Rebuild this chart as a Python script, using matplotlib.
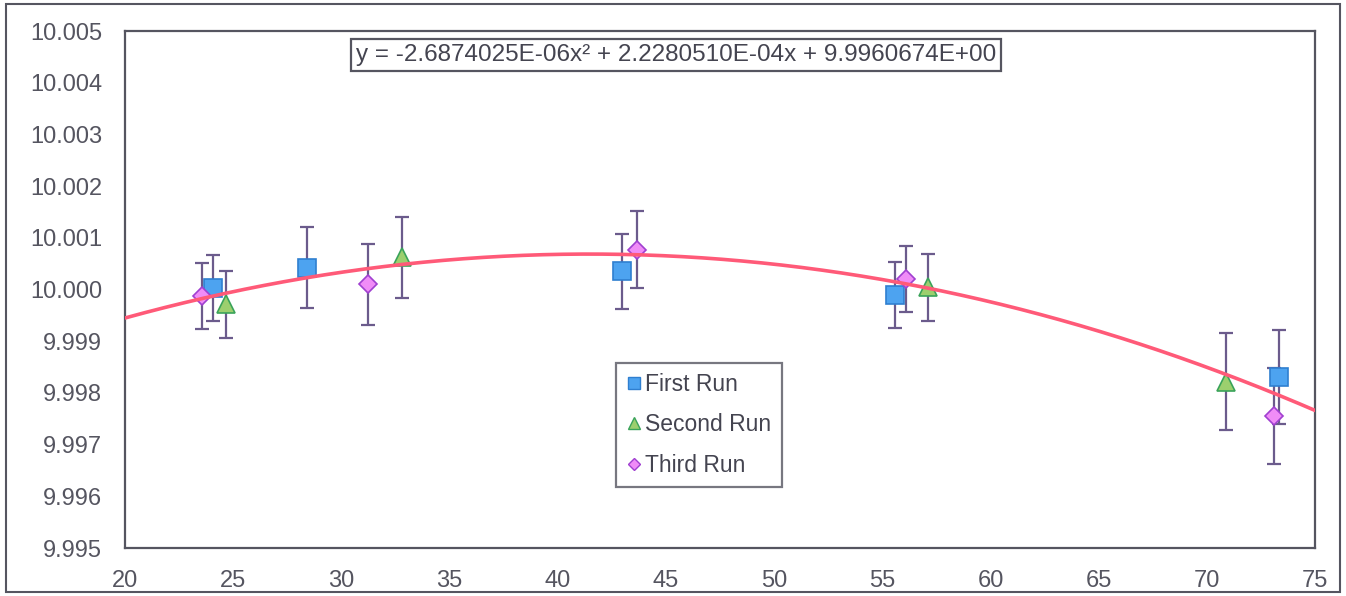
import numpy as np
import matplotlib
matplotlib.use("Agg")
import matplotlib.pyplot as plt
from matplotlib.lines import Line2D
from matplotlib.patches import Rectangle

plt.rcParams['font.family'] = ['Liberation Sans', 'DejaVu Sans']

# ---- data ----
first_x = [24.07, 28.4, 42.97, 55.6, 73.33]
first_y = [10.00003, 10.00042, 10.00035, 9.99990, 9.99830]
first_err = [0.00063, 0.00078, 0.00072, 0.00064, 0.00091]

second_x = [24.67, 32.8, 57.1, 70.9]
second_y = [9.99971, 10.00062, 10.00004, 9.99822]
second_err = [0.00065, 0.00079, 0.00064, 0.00093]

third_x = [23.56, 31.23, 43.66, 56.1, 73.1]
third_y = [9.99987, 10.00010, 10.00077, 10.00021, 9.99756]
third_err = [0.00064, 0.00078, 0.00074, 0.00064, 0.00093]

# trendline coefficients (as printed on chart)
fit_coeffs = [-2.6874025e-06, 2.2280510e-04, 9.9960674e+00]
equation = "y = -2.6874025E-06x\u00b2 + 2.2280510E-04x + 9.9960674E+00"

x_ticks = [20, 25, 30, 35, 40, 45, 50, 55, 60, 65, 70, 75]
y_ticks = [9.995, 9.996, 9.997, 9.998, 9.999, 10.000, 10.001, 10.002, 10.003, 10.004, 10.005]

# ---- figure ----
fig = plt.figure(figsize=(13.46, 5.96), dpi=100)
ax = fig.add_axes([125/1346, 48/596, 1190/1346, 517/596])

frame = Rectangle((6/1346, 4/596), 1334/1346, 588/596, transform=fig.transFigure,
                  fill=False, edgecolor='#555560', linewidth=1.5)
fig.patches.append(frame)

err_color = '#6b5b8c'
series = [
    (first_x, first_y, first_err, 's', '#4da3f0', '#2f7fd0', 12.5, 'First Run'),
    (second_x, second_y, second_err, '^', '#9ccf6e', '#3aa35a', 12.5, 'Second Run'),
    (third_x, third_y, third_err, 'D', '#f08cf7', '#a040d0', 9, 'Third Run'),
]
handles = []
for xs, ys, es, m, fc, ec, ms, lab in series:
    ax.errorbar(xs, ys, yerr=es, fmt='none', ecolor=err_color, elinewidth=1.6,
                capsize=5, capthick=1.6, zorder=2)
    ax.plot(xs, ys, linestyle='none', marker=m, markersize=ms, markerfacecolor=fc,
            markeredgecolor=ec, markeredgewidth=1.2, zorder=3)
    handles.append(Line2D([], [], linestyle='none', marker=m, markersize=8 if m != 'D' else 6,
                          markerfacecolor=fc, markeredgecolor=ec, markeredgewidth=1.0, label=lab))

xf = np.linspace(20, 75, 300)
ax.plot(xf, np.polyval(fit_coeffs, xf), color='#ff5a78', linewidth=2.6, zorder=4)

ax.set_xlim(20, 75)
ax.set_ylim(9.995, 10.005)
ax.set_xticks(x_ticks)
ax.set_xticklabels([str(v) for v in x_ticks])
ax.set_yticks(y_ticks)
ax.set_yticklabels([f"{v:.3f}" for v in y_ticks])
ax.tick_params(length=0, labelsize=17, colors='#555560')
ax.tick_params(axis='y', pad=16.5)
ax.tick_params(axis='x', pad=16)
for s in ax.spines.values():
    s.set_color('#555560')
    s.set_linewidth(1.6)

ax.text(0.463, 0.954, equation, transform=ax.transAxes, ha='center', va='center',
        fontsize=17.5, color='#444450',
        bbox=dict(boxstyle='square,pad=0.2', facecolor='white', edgecolor='#555560', linewidth=1.6))

leg = ax.legend(handles=handles, loc='lower left', bbox_to_anchor=(0.413, 0.118),
                fontsize=16.5, frameon=True, fancybox=False, handlelength=0.6,
                handletextpad=0.2, labelspacing=0.75, borderpad=0.45, borderaxespad=0)
leg.get_frame().set_edgecolor('#555560')
leg.get_frame().set_linewidth(1.6)
for t in leg.get_texts():
    t.set_color('#444450')

fig.savefig('out.png', dpi=100)
